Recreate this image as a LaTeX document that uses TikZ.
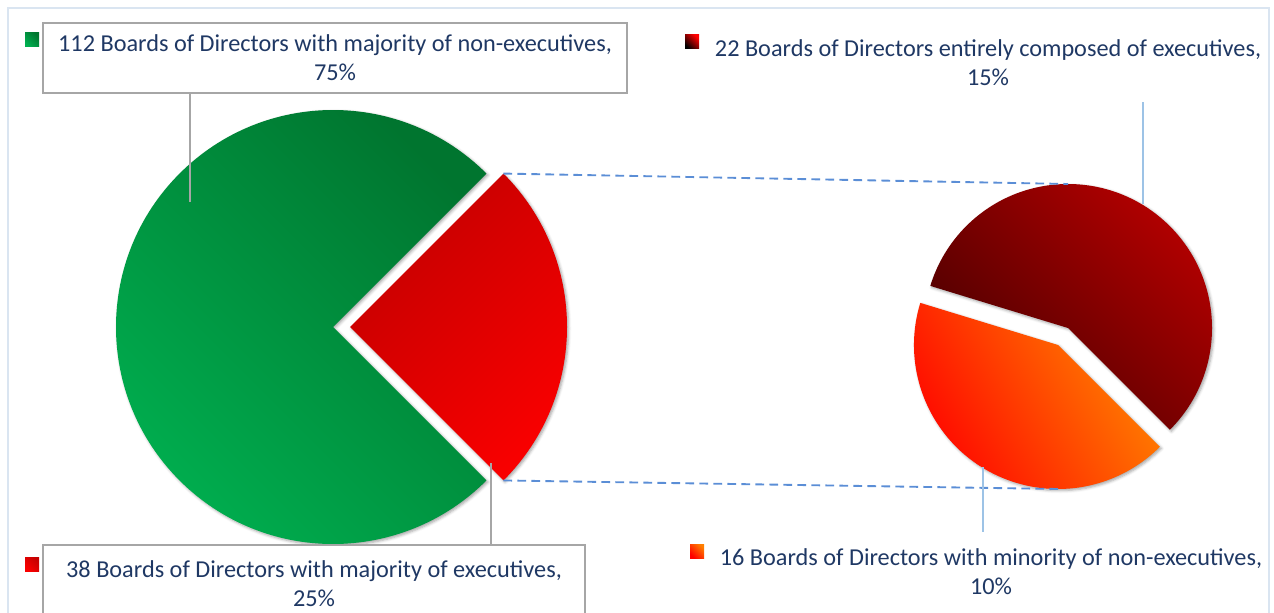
\documentclass[tikz,border=0pt]{standalone}
\usepackage{fontspec}
\setmainfont{Carlito}
\usetikzlibrary{positioning,calc,shadows.blur}
\definecolor{txtblue}{HTML}{1F3864}
\definecolor{framebl}{HTML}{DAE5F1}
\definecolor{dashbl}{HTML}{5B8ED6}
\definecolor{leadbl}{HTML}{9DC3E6}
\definecolor{leadgr}{HTML}{A6A6A6}
\definecolor{grnlight}{HTML}{00B050}
\definecolor{grndark}{HTML}{00752F}
\definecolor{redlight}{HTML}{FA0000}
\definecolor{reddark}{HTML}{C40000}
\definecolor{mrnlight}{HTML}{B80000}
\definecolor{mrndark}{HTML}{480000}
\definecolor{orglight}{HTML}{FF8400}
\definecolor{orgdark}{HTML}{FF0000}
\tikzset{
  lbl/.style={text=txtblue,align=center,font=\fontsize{18.2}{21.5}\selectfont},
  lblbox/.style={lbl,draw=leadgr,line width=1.1pt,fill=white,inner sep=0pt},
  leader/.style={line width=1pt},
  zoomline/.style={dashbl,line width=1.4pt,dash pattern=on 6.5pt off 4pt},
  wedge/.style={blur shadow={shadow xshift=1.2pt,shadow yshift=-1.2pt,
    shadow blur radius=2pt,shadow opacity=35}}
}
\newcommand*{\keysq}[3]
  {\shade[top color=#2,bottom color=#3,shading angle=-45] (#1) ++(-7,-7) rectangle ++(14,14)}

\begin{document}
\begin{tikzpicture}[x=0.75pt,y=0.75pt]
\useasboundingbox (0,0) rectangle (1274,612);
\draw[framebl,line width=1.3pt] (8,-20) rectangle (1269,604);
\coordinate (G) at (333,285);
\coordinate (R) at (350,285);
\coordinate (D) at (1068,284);
\coordinate (O) at (1058,267);
% left pie
\shade[wedge,top color=grndark,bottom color=grnlight,shading angle=-45]
  (G) -- ($(G)+(45:217)$) arc[start angle=45,end angle=315,radius=217] -- cycle;
\shade[wedge,top color=reddark,bottom color=redlight,shading angle=45]
  (R) -- ($(R)+(-45:217)$) arc[start angle=-45,end angle=45,radius=217] -- cycle;
% right pie
\shade[wedge,top color=mrnlight,bottom color=mrndark,shading angle=-45]
  (D) -- ($(D)+(-45:144)$) arc[start angle=-45,end angle=163,radius=144] -- cycle;
\shade[wedge,top color=orglight,bottom color=orgdark,shading angle=-60]
  (O) -- ($(O)+(163:144)$) arc[start angle=163,end angle=315,radius=144] -- cycle;
% zoom lines
\coordinate (rtop) at ($(R)+(45:217)$);
\coordinate (rbot) at ($(R)+(-45:217)$);
\coordinate (dtop) at ($(D)+(90:144)$);
\coordinate (obot) at ($(O)+(270:144)$);
\draw[zoomline] (rtop) -- (dtop);
\draw[zoomline] (rbot) -- (obot);
% labels
\node[lblbox,minimum width=438pt,minimum height=52.5pt] (lblgrn) at (335,554)
  {112 Boards of Directors with majority of non-executives,\\75\%};
\node[lblbox,minimum width=406.5pt,minimum height=58pt] (lblred) at (314,28.5)
  {38 Boards of Directors with majority of executives,\\25\%};
\node[lbl] (lblmrn) at (988,549.5)
  {22 Boards of Directors entirely composed of executives,\\15\%};
\node[lbl] (lblorg) at (991,40.5)
  {16 Boards of Directors with minority of non-executives,\\10\%};
% leader lines
\coordinate (gpt) at (190,410);
\coordinate (rpt) at (491,149);
\coordinate (mpt) at (1143,408);
\coordinate (opt) at (983,145);
\draw[leader,leadgr] (lblgrn.south -| gpt) -- (gpt);
\draw[leader,leadgr] (rpt) -- (rpt |- lblred.north);
\draw[leader,leadbl] (mpt) -- ++(0,102);
\draw[leader,leadbl] (opt) -- ++(0,-65);
% legend keys
\foreach \pos/\ca/\cb in {{32,572}/grndark/grnlight,{32,48}/reddark/redlight,
  {692,570}/red/black,{697,61}/orange/red} {
  \keysq{\pos}{\ca}{\cb};
}
\end{tikzpicture}
\end{document}
